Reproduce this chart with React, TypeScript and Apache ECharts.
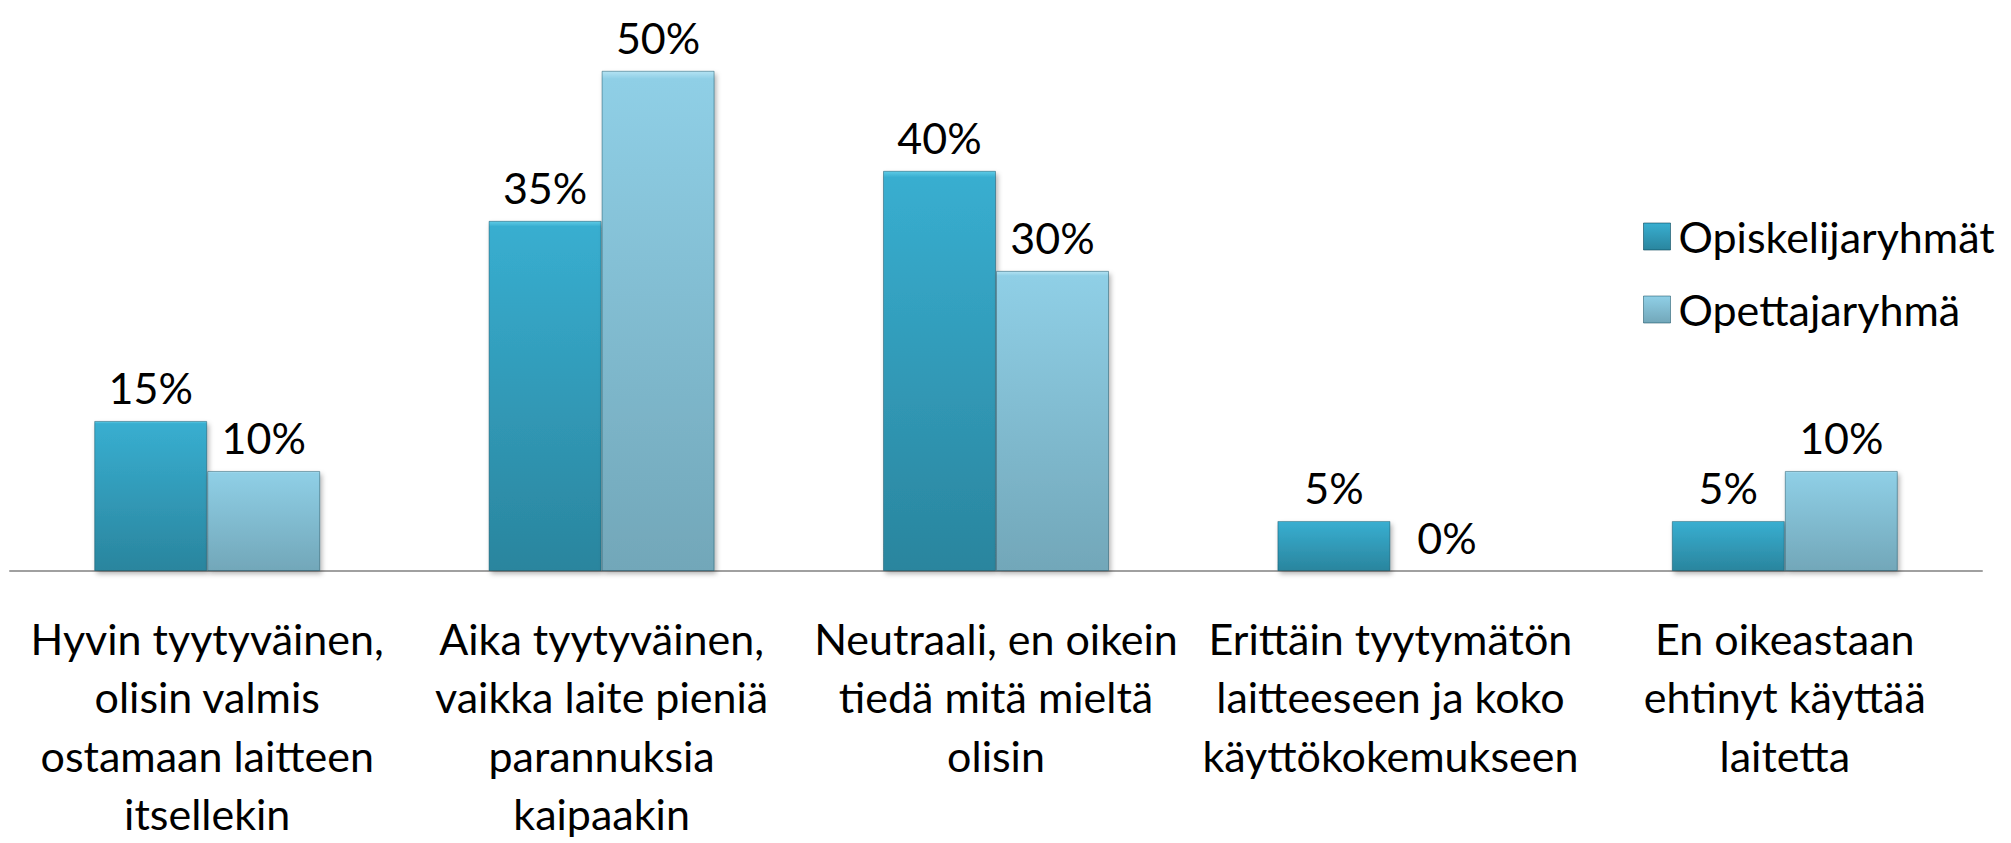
import React, { useEffect, useRef } from "react";
import * as echarts from "echarts";

const categories = [
  "Hyvin tyytyväinen,\nolisin valmis\nostamaan laitteen\nitsellekin",
  "Aika tyytyväinen,\nvaikka laite pieniä\nparannuksia\nkaipaakin",
  "Neutraali, en oikein\ntiedä mitä mieltä\nolisin",
  "Erittäin tyytymätön\nlaitteeseen ja koko\nkäyttökokemukseen",
  "En oikeastaan\nehtinyt käyttää\nlaitetta",
];
const seriesNames = ["Opiskelijaryhmät", "Opettajaryhmä"];
const opiskelijat = [15, 35, 40, 5, 5];
const opettajat = [10, 50, 30, 0, 10];

const FONT = "Lato, 'Noto Sans', sans-serif";

const grad = (stops: [number, string][]) =>
  new echarts.graphic.LinearGradient(
    0,
    0,
    0,
    1,
    stops.map(([offset, color]) => ({ offset, color }))
  );

export default function App() {
  const ref = useRef<HTMLDivElement>(null);
  useEffect(() => {
    if (!ref.current) return;
    const chart = echarts.init(ref.current, null, { renderer: "svg" });
    const c1 = grad([
      [0, "#5fcbe6"],
      [0.015, "#38aed0"],
      [1, "#2a859e"],
    ]);
    const c2 = grad([
      [0, "#b4e3f3"],
      [0.015, "#8fcfe6"],
      [1, "#72a7b9"],
    ]);
    const label = {
      show: true,
      position: "top",
      distance: 12,
      formatter: "{c}%",
      color: "#000",
      fontFamily: FONT,
      fontSize: 43,
    };
    const itemStyleBase = {
      borderColor: "rgba(10,70,90,0.45)",
      borderWidth: 1,
      shadowColor: "rgba(0,0,0,0.3)",
      shadowBlur: 5,
      shadowOffsetX: 2,
      shadowOffsetY: 3,
    };
    chart.setOption({
      animation: false,
      backgroundColor: "#ffffff",
      grid: { left: 10, right: 29, top: 20.75, bottom: 260, containLabel: false },
      legend: {
        orient: "vertical",
        left: 1638,
        top: 210,
        itemWidth: 27,
        itemHeight: 27,
        itemGap: 30,
        textStyle: { fontFamily: FONT, fontSize: 43, color: "#000", padding: [0, 0, 0, 3] },
        data: [
          { name: seriesNames[0], icon: "rect", itemStyle: { color: c1, borderColor: "rgba(10,70,90,0.6)", borderWidth: 1 } },
          { name: seriesNames[1], icon: "rect", itemStyle: { color: c2, borderColor: "rgba(10,70,90,0.5)", borderWidth: 1 } },
        ],
      },
      xAxis: {
        type: "category",
        data: categories,
        axisLine: { show: true, lineStyle: { color: "#a0a0a0", width: 2 } },
        axisTick: { show: false },
        axisLabel: {
          interval: 0,
          margin: 38,
          fontFamily: FONT,
          fontSize: 43,
          lineHeight: 58.5,
          color: "#000",
          align: "center",
        },
      },
      yAxis: {
        type: "value",
        min: 0,
        max: 55,
        show: false,
        splitLine: { show: false },
      },
      series: [
        {
          name: seriesNames[0],
          type: "bar",
          data: opiskelijat,
          barWidth: 113,
          barGap: "0%",
          itemStyle: { ...itemStyleBase, color: c1 },
          label,
        },
        {
          name: seriesNames[1],
          type: "bar",
          data: opettajat,
          barWidth: 113,
          barGap: "0%",
          itemStyle: { ...itemStyleBase, color: c2 },
          label,
        },
      ],
    });
    return () => chart.dispose();
  }, []);
  return (
    <div
      ref={ref}
      style={{ position: "fixed", left: 0, top: 0, width: 2011, height: 843, background: "#fff" }}
    />
  );
}
